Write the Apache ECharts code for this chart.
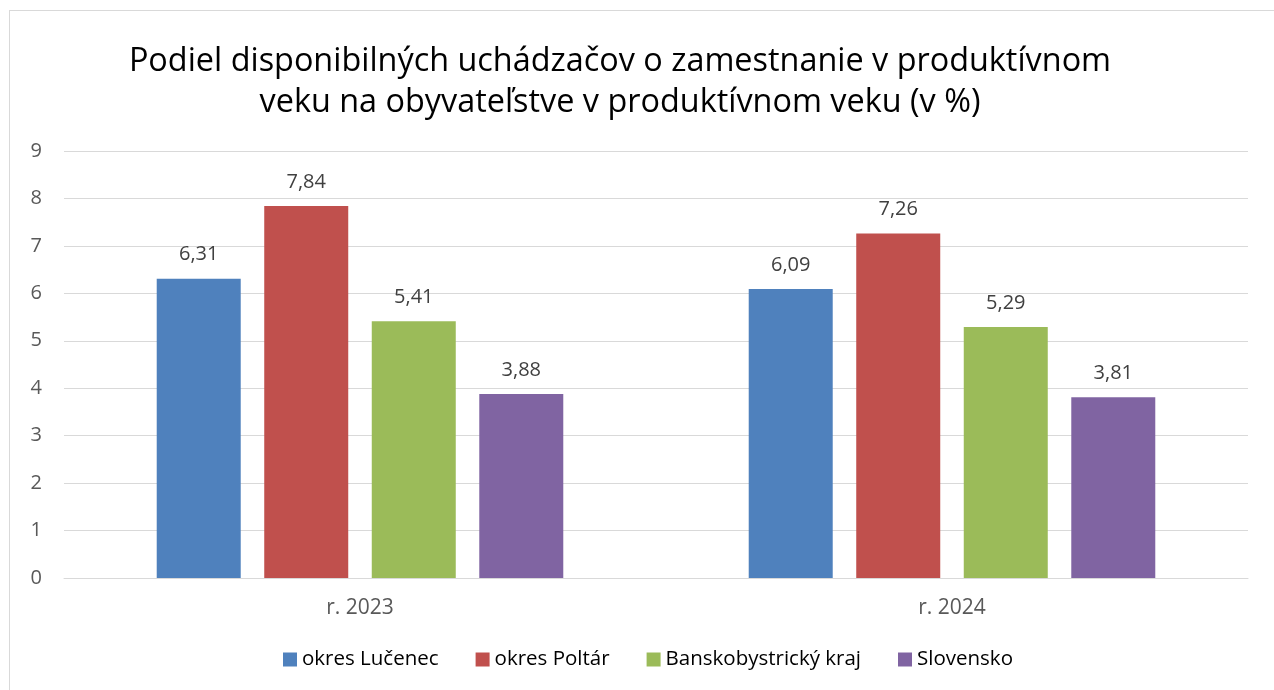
<!DOCTYPE html>
<html>
<head>
<meta charset="utf-8">
<script src="https://cdn.jsdelivr.net/npm/echarts@6/dist/echarts.min.js"></script>
<style>
  html, body { margin: 0; padding: 0; background: #fff; }
  #frame { position: absolute; left: 9px; top: 10px; width: 1265px; height: 680px;
           border-left: 1px solid #d9d9d9; border-top: 1px solid #d9d9d9; }
  #chart { position: absolute; left: 0; top: 0; width: 1274px; height: 690px; }
</style>
</head>
<body>
<div id="frame"></div>
<div id="chart"></div>
<script>
var years = ['r. 2023', 'r. 2024'];
var lucenec = [6.31, 6.09];
var poltar = [7.84, 7.26];
var bbKraj = [5.41, 5.29];
var slovensko = [3.88, 3.81];

var font = '"Open Sans", "Noto Sans", sans-serif';

function fmt(p) {
    return p.value.toFixed(2).replace('.', ',');
}

function mkSeries(name, data, color) {
    return {
        name: name,
        type: 'bar',
        data: data,
        barWidth: 84,
        barGap: '28%',
        itemStyle: { color: color },
        label: {
            show: true,
            position: 'top',
            distance: 14,
            formatter: fmt,
            color: '#404040',
            fontSize: 20,
            fontFamily: font
        }
    };
}

var chart = echarts.init(document.getElementById('chart'));
var option = {
    animation: false,
    title: {
        text: 'Podiel disponibilných uchádzačov o zamestnanie v produktívnom\nveku na obyvateľstve v produktívnom veku (v %)',
        left: 615,
        top: 36,
        textAlign: 'center',
        textStyle: {
            fontFamily: font,
            fontSize: 32.4,
            fontWeight: 'normal',
            color: '#000',
            lineHeight: 41
        }
    },
    legend: {
        bottom: 15,
        left: 278,
        itemWidth: 14,
        itemHeight: 14,
        itemGap: 37,
        icon: 'rect',
        textStyle: { fontFamily: font, fontSize: 20.5, color: '#000' },
        data: ['okres Lučenec', 'okres Poltár', 'Banskobystrický kraj', 'Slovensko']
    },
    grid: { left: 64, right: 26, top: 151, bottom: 112 },
    xAxis: {
        type: 'category',
        data: years,
        axisTick: { show: false },
        axisLine: { lineStyle: { color: '#d9d9d9', width: 1 } },
        axisLabel: { fontFamily: font, fontSize: 21, color: '#595959', margin: 20 }
    },
    yAxis: {
        type: 'value',
        min: 0,
        max: 9,
        interval: 1,
        axisLabel: { fontFamily: font, fontSize: 20, color: '#595959', margin: 22 },
        splitLine: { lineStyle: { color: '#d9d9d9', width: 1 } }
    },
    series: [
        mkSeries('okres Lučenec', lucenec, '#4F81BD'),
        mkSeries('okres Poltár', poltar, '#C0504D'),
        mkSeries('Banskobystrický kraj', bbKraj, '#9BBB59'),
        mkSeries('Slovensko', slovensko, '#8064A2')
    ]
};
chart.setOption(option);
</script>
</body>
</html>
